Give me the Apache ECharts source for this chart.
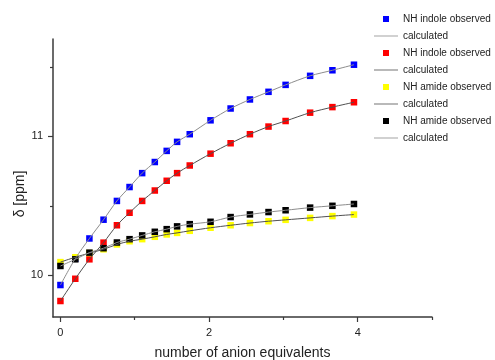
<!DOCTYPE html>
<html>
<head>
<meta charset="utf-8">
<style>
  html, body { margin: 0; padding: 0; background: #fff; }
  #chart { width: 495px; height: 360px; }
</style>
<script src="https://cdn.jsdelivr.net/npm/echarts@6/dist/echarts.min.js"></script>
</head>
<body>
<div id="chart"></div>
<script>
// Anion titration: chemical shift of NH protons vs. equivalents of added anion
const equivalents = [0, 0.20, 0.39, 0.58, 0.76, 0.93, 1.10, 1.27, 1.43, 1.57, 1.74, 2.02, 2.29, 2.55, 2.80, 3.03, 3.36, 3.66, 3.95];

const indoleA = [9.93, 10.12, 10.265, 10.40, 10.535, 10.635, 10.735, 10.815, 10.895, 10.96, 11.015, 11.115, 11.20, 11.265, 11.32, 11.37, 11.435, 11.475, 11.515];
const indoleB = [9.815, 9.975, 10.115, 10.235, 10.36, 10.45, 10.535, 10.61, 10.68, 10.735, 10.79, 10.875, 10.95, 11.015, 11.07, 11.11, 11.17, 11.21, 11.245];
const amideA  = [10.095, 10.13, 10.16, 10.187, 10.222, 10.245, 10.26, 10.277, 10.294, 10.305, 10.32, 10.342, 10.36, 10.376, 10.389, 10.399, 10.413, 10.426, 10.437];
const amideB  = [10.067, 10.115, 10.163, 10.195, 10.236, 10.26, 10.287, 10.313, 10.332, 10.352, 10.368, 10.385, 10.419, 10.438, 10.455, 10.468, 10.487, 10.50, 10.513];

const xMajorTicks = [0, 2, 4];
const xMinorTicks = [1, 3, 5];
const yMajorTicks = [10, 11];
const yMinorTicks = [10.5, 11.5];

const observedNames = ['NH indole observed', 'NH indole observed', 'NH amide observed', 'NH amide observed'];
const calcName = 'calculated';

const pairs = (ys) => equivalents.map((x, i) => [x, ys[i]]);

const FONT = 'Liberation Sans, Arial, sans-serif';
const AXIS_COLOR = '#3a3a3a';

// legend glyphs: a small square for measured points, a thin bar for fitted curves
const SQUARE_ICON = 'path://M0,0h10v10h-10z';
const LINE_ICON = 'path://M0,0h30v1h-30z';

const sets = [
  { data: indoleA, color: '#0000ff', line: '#8c8c8c' },
  { data: indoleB, color: '#ff0000', line: '#505050' },
  { data: amideA,  color: '#ffff00', line: '#505050' },
  { data: amideB,  color: '#000000', line: '#8c8c8c' }
];

const series = [];
const legendData = [];
sets.forEach((s, k) => {
  // unique internal names so each legend row keeps its own icon
  const obsId = observedNames[k] + '\u200B'.repeat(k);
  const calcId = calcName + '\u200B'.repeat(k);
  series.push({
    name: obsId,
    type: 'scatter',
    symbol: 'rect',
    symbolSize: 6.5,
    itemStyle: { color: s.color, opacity: 1 },
    data: pairs(s.data),
    z: 3
  });
  series.push({
    name: calcId,
    type: 'line',
    smooth: 0.3,
    symbol: 'none',
    showSymbol: false,
    lineStyle: { color: s.line, width: 1 },
    itemStyle: { color: s.line },
    data: pairs(s.data),
    z: 4
  });
  legendData.push({ name: obsId, icon: SQUARE_ICON }, { name: calcId, icon: LINE_ICON });
});

const baseX = {
  type: 'value', min: -0.1, max: 5,
  splitLine: { show: false }
};
const baseY = {
  type: 'value', min: 9.7, max: 11.7,
  splitLine: { show: false }
};

const option = {
  backgroundColor: '#ffffff',
  animation: false,
  grid: { left: 53, right: 63, top: 39, bottom: 43, outerBoundsMode: 'none', containLabel: false },
  legend: {
    orient: 'vertical',
    left: 369,
    top: 8,
    itemWidth: 24,
    itemHeight: 6,
    itemGap: 5,
    data: legendData,
    formatter: (n) => n.replace(/\u200B/g, ''),
    textStyle: { fontFamily: FONT, fontSize: 10, color: '#222', lineHeight: 12 }
  },
  xAxis: [
    Object.assign({}, baseX, {
      name: 'number of anion equivalents',
      nameLocation: 'middle',
      nameGap: 29,
      nameMoveOverlap: false,
      nameTextStyle: { fontFamily: FONT, fontSize: 14, color: '#222' },
      axisLine: { onZero: false, lineStyle: { color: AXIS_COLOR, width: 1.5 } },
      axisTick: { show: true, customValues: xMajorTicks, length: 5, lineStyle: { color: AXIS_COLOR, width: 1.2 } },
      axisLabel: { customValues: xMajorTicks, margin: 10, fontFamily: FONT, fontSize: 11, color: '#222' }
    }),
    Object.assign({}, baseX, {
      position: 'bottom',
      axisLine: { show: false, onZero: false },
      axisTick: { show: true, customValues: xMinorTicks, length: 3, lineStyle: { color: AXIS_COLOR, width: 1.2 } },
      axisLabel: { show: false }
    })
  ],
  yAxis: [
    Object.assign({}, baseY, {
      name: '\u03B4 [ppm]',
      nameLocation: 'middle',
      nameGap: 26,
      nameRotate: 90,
      nameMoveOverlap: false,
      nameTextStyle: { fontFamily: FONT, fontSize: 14, color: '#222', padding: [0, 32, 0, 0] },
      axisLine: { show: true, onZero: false, lineStyle: { color: AXIS_COLOR, width: 1.5 } },
      axisTick: { show: true, customValues: yMajorTicks, length: 5, lineStyle: { color: AXIS_COLOR, width: 1.2 } },
      axisLabel: { customValues: yMajorTicks, margin: 10, fontFamily: FONT, fontSize: 11, color: '#222' }
    }),
    Object.assign({}, baseY, {
      position: 'left',
      axisLine: { show: false, onZero: false },
      axisTick: { show: true, customValues: yMinorTicks, length: 3, lineStyle: { color: AXIS_COLOR, width: 1.2 } },
      axisLabel: { show: false }
    })
  ],
  series: series
};

const chart = echarts.init(document.getElementById('chart'), null, { renderer: 'canvas' });
chart.setOption(option);
</script>
</body>
</html>
